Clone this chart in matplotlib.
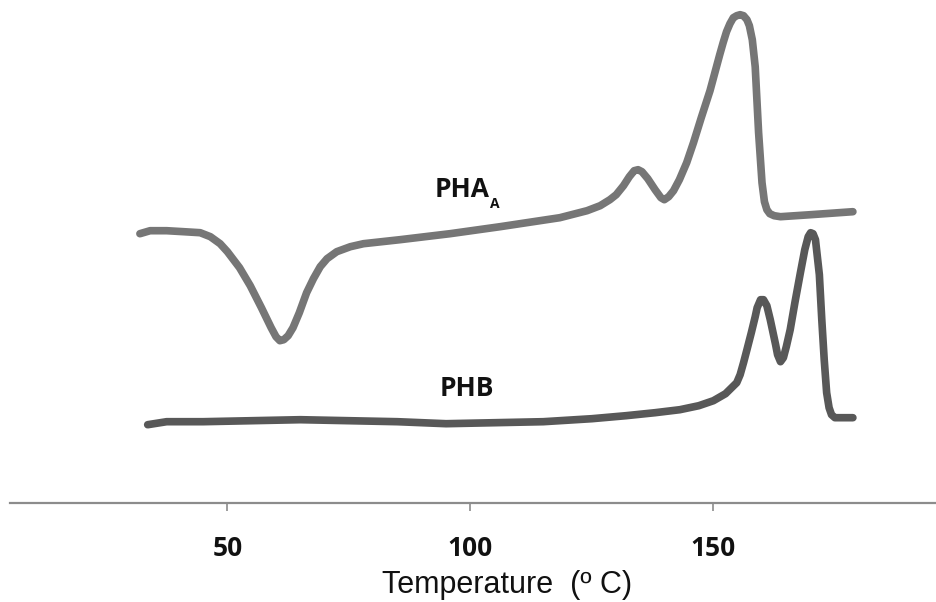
import matplotlib
matplotlib.use("Agg")
import matplotlib.pyplot as plt

# DSC traces, heat flow in arbitrary units
pha_temp = [32.0, 34.1, 37.5, 41.0, 44.4, 46.5, 48.5, 50.0, 52.5, 54.7, 57.0, 59.0,
            60.0, 60.8, 61.6, 62.5, 63.5, 64.8, 66.3, 67.7, 69.1, 70.5, 72.5, 75.3,
            78.0, 85.5, 95.8, 106.1, 118.4, 124.0, 126.7, 128.7, 130.0, 131.5, 132.7,
            133.7, 134.5, 135.3, 136.5, 138.0, 139.2, 139.9, 140.8, 141.8, 143.0,
            144.5, 145.9, 147.5, 149.3, 150.3, 151.3, 152.0, 152.7, 153.4, 154.1,
            154.8, 155.5, 156.2, 156.9, 157.4, 158.0, 158.6, 159.3, 160.0, 160.5,
            161.0, 161.6, 162.5, 163.8, 170.0, 178.7]
pha_flow = [26.9, 27.2, 27.2, 27.1, 27.0, 26.6, 25.9, 25.1, 23.5, 21.7, 19.5, 17.5,
            16.6, 16.2, 16.3, 16.7, 17.5, 19.0, 21.0, 22.4, 23.6, 24.4, 25.1, 25.6,
            25.9, 26.3, 26.9, 27.6, 28.5, 29.2, 29.7, 30.3, 30.8, 31.7, 32.6,
            33.2, 33.3, 33.1, 32.4, 31.3, 30.5, 30.3, 30.6, 31.2, 32.3,
            34.0, 36.0, 38.5, 41.2, 43.0, 44.8, 46.0, 47.1, 47.9, 48.5,
            48.7, 48.8, 48.7, 48.3, 47.7, 46.3, 43.6, 37.0, 32.0, 30.1,
            29.3, 28.9, 28.7, 28.6, 28.8, 29.1]

phb_temp = [33.6, 37.5, 45, 55, 65, 75, 85, 95, 105, 115, 125, 132, 138, 143.1, 147,
            150.0, 152.5, 154.8, 155.5, 156.2, 156.9, 157.8, 158.6, 159.0, 159.7,
            160.3, 161.0, 161.7, 162.8, 163.2, 163.8, 164.4, 165.0, 165.8, 166.8,
            167.9, 168.8, 169.5, 170.0, 170.5, 171.0, 171.8, 172.3, 172.8, 173.3,
            173.8, 174.3, 175.0, 176.0, 178.7]
phb_flow = [7.8, 8.1, 8.1, 8.2, 8.3, 8.2, 8.1, 7.9, 8.0, 8.1, 8.4, 8.7, 9.0, 9.3, 9.7,
            10.2, 10.9, 12.0, 12.8, 14.0, 15.3, 17.0, 18.6, 19.5, 20.3,
            20.3, 19.7, 18.3, 15.8, 14.8, 14.1, 14.5, 15.6, 17.3, 20.1,
            23.0, 25.3, 26.6, 27.0, 26.9, 26.3, 22.8, 18.3, 14.3, 11.0,
            9.5, 8.8, 8.5, 8.5, 8.5]

xticks = [50, 100, 150]

fig = plt.figure(figsize=(9.36, 6.02), dpi=100)
ax = fig.add_axes([10 / 936, 99.3 / 602, 926 / 936, 502.7 / 602])

ax.plot(pha_temp, pha_flow, color="#767676", lw=5.5,
        solid_capstyle="round", solid_joinstyle="round")
ax.plot(phb_temp, phb_flow, color="#585858", lw=5.5,
        solid_capstyle="round", solid_joinstyle="round")

ax.set_xlim(5.27, 195.8)
ax.set_ylim(0, 50.27)

for s in ["top", "right", "left"]:
    ax.spines[s].set_visible(False)
ax.spines["bottom"].set_color("#8c8c8c")
ax.spines["bottom"].set_linewidth(1.6)
ax.set_yticks([])
ax.set_xticks(xticks)
ax.set_xticklabels([str(t) for t in xticks], fontfamily="Open Sans",
                   fontweight="bold", fontsize=19, color="#111111")
ax.tick_params(axis="x", direction="out", length=6, width=1.2,
               color="#8c8c8c", pad=17)

# curve labels
ax.text(92.7, 30.6, "PHA", fontfamily="Open Sans", fontweight="bold",
        fontsize=19, color="#111111", ha="left", va="baseline")
ax.text(104.0, 29.5, "A", fontfamily="Open Sans", fontweight="bold",
        fontsize=10, color="#111111", ha="left", va="baseline")
ax.text(93.7, 10.7, "PHB", fontfamily="Open Sans", fontweight="bold",
        fontsize=19, color="#111111", ha="left", va="baseline")

fig.text(507 / 936, 1 - 585 / 602, "Temperature  (º C)", fontfamily="Liberation Sans",
         fontsize=22, color="#111111", ha="center", va="center")

fig.savefig("out.png", dpi=100, facecolor="white")
